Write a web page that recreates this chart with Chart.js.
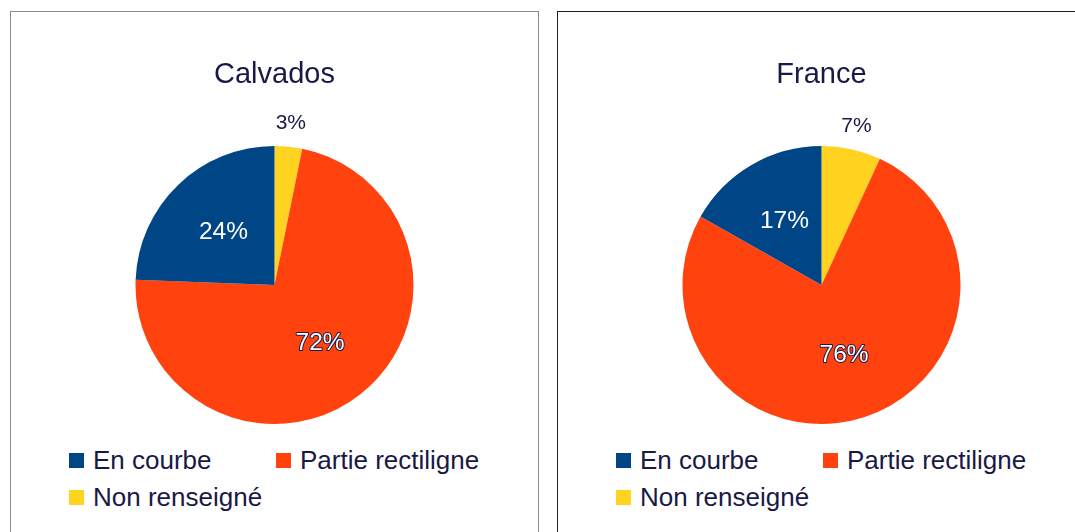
<!DOCTYPE html>
<html>
<head>
<meta charset="utf-8">
<script src="https://cdn.jsdelivr.net/npm/chart.js@4.4.1/dist/chart.umd.min.js"></script>
<style>
  body { margin: 0; background: #fff; width: 1075px; height: 532px; overflow: hidden; position: relative;
         font-family: 'Liberation Sans', Arial, sans-serif; }
  .panel { position: absolute; top: 11px; width: 527px; height: 540px; background: #fff; }
  #panel-calvados { left: 10px; border: 1px solid #8a8a8a; }
  #panel-france   { left: 557px; border: 1px solid #1e1e1e; }
  .panel canvas { position: absolute; left: 0; top: 0; }
  .legend { position: absolute; left: 0; top: 430px; width: 100%; }
  .legend-item { position: absolute; display: flex; align-items: center; height: 37px; white-space: nowrap;
                 font-size: 26px; color: #191947; }
  .legend-item .box { width: 15px; height: 15px; margin-right: 9px; flex: none; }
</style>
</head>
<body>
<div class="panel" id="panel-calvados">
  <canvas id="chart-calvados" width="527" height="430" style="width:527px;height:430px"></canvas>
  <div class="legend" id="legend-calvados"></div>
</div>
<div class="panel" id="panel-france">
  <canvas id="chart-france" width="527" height="430" style="width:527px;height:430px"></canvas>
  <div class="legend" id="legend-france"></div>
</div>

<script>
/* ---- data (legend order) ---- */
const categories     = ['En courbe', 'Partie rectiligne', 'Non renseigné'];
const calvadosValues = [24.4, 72.4, 3.2];
const franceValues   = [16.8, 76.3, 6.9];
const sliceColors    = ['#004586', '#ff420e', '#ffd320'];

const NAVY = '#191947';
const FONT = "'Liberation Sans', Arial, sans-serif";

// percentage labels on / beside each slice
const sliceLabels = {
  id: 'sliceLabels',
  afterDatasetsDraw(chart) {
    const { ctx } = chart;
    const values = chart.data.datasets[0].data;
    const total = values.reduce((a, b) => a + b, 0);
    chart.getDatasetMeta(0).data.forEach((arc, i) => {
      const { x, y, startAngle, endAngle, outerRadius } =
        arc.getProps(['x', 'y', 'startAngle', 'endAngle', 'outerRadius'], true);
      const share = values[i] / total;
      const mid = (startAngle + endAngle) / 2;
      const outside = share < 0.1;
      const r = outside ? outerRadius * 1.17 : outerRadius * 0.53;
      const tx = x + Math.cos(mid) * r, ty = y + Math.sin(mid) * r;
      const txt = Math.round(share * 100) + '%';
      const label = chart.data.labels[i];
      ctx.save();
      ctx.font = (outside ? 21 : 24.5) + 'px ' + FONT;
      ctx.textAlign = 'center';
      ctx.textBaseline = 'middle';
      if (outside) {
        ctx.fillStyle = NAVY;
      } else if (label === 'Partie rectiligne') {
        ctx.lineWidth = 2; ctx.strokeStyle = NAVY; ctx.lineJoin = 'round';
        ctx.strokeText(txt, tx, ty);
        ctx.fillStyle = '#fff';
      } else {
        ctx.fillStyle = '#fff';
      }
      ctx.fillText(txt, tx, ty);
      ctx.restore();
    });
  }
};

function buildLegend(id) {
  const el = document.getElementById(id);
  const spots = [[58, 0], [265, 0], [58, 37]];
  categories.forEach((c, i) => {
    const item = document.createElement('div');
    item.className = 'legend-item';
    item.style.left = spots[i][0] + 'px';
    item.style.top = spots[i][1] + 'px';
    item.innerHTML = '<span class="box" style="background:' + sliceColors[i] + '"></span><span>' + c + '</span>';
    el.appendChild(item);
  });
}

function drawPie(canvasId, title, values) {
  // slices run clockwise from 12 o'clock in reverse legend order
  const rev = a => a.slice().reverse();
  return new Chart(document.getElementById(canvasId), {
    type: 'pie',
    data: {
      labels: rev(categories),
      datasets: [{ data: rev(values), backgroundColor: rev(sliceColors), borderWidth: 0, hoverOffset: 0 }],
    },
    options: {
      responsive: false, animation: false,
      layout: { padding: { top: 0, bottom: 18, left: 0, right: 0 } },
      plugins: {
        legend: { display: false },
        tooltip: { enabled: false },
        title: { display: true, text: title, color: NAVY,
                 font: { family: FONT, size: 29, weight: 'normal' },
                 padding: { top: 45.6, bottom: 53.6 } },
      },
    },
    plugins: [sliceLabels],
  });
}

drawPie('chart-calvados', 'Calvados', calvadosValues);
drawPie('chart-france', 'France', franceValues);
buildLegend('legend-calvados');
buildLegend('legend-france');
</script>
</body>
</html>
